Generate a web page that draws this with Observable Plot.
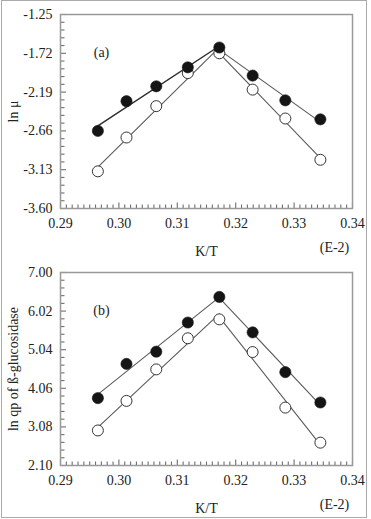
<!DOCTYPE html>
<html>
<head>
<meta charset="utf-8">
<script src="https://cdn.jsdelivr.net/npm/d3@7"></script>
<script src="https://cdn.jsdelivr.net/npm/@observablehq/plot@0.6"></script>
<style>
  html, body { margin: 0; padding: 0; background: #fff; }
  #page { position: relative; width: 371px; height: 519px; overflow: hidden; }
  #border { position: absolute; left: 1px; top: 0; width: 364px; height: 516px; border: 1.5px solid #aaa; }
  #panelA, #panelB { position: absolute; left: 0; }
  #panelA { top: 0; }
  #panelB { top: 259px; }
</style>
</head>
<body>
<div id="page">
  <div id="border"></div>
  <div id="panelA"></div>
  <div id="panelB"></div>
</div>
<script>
// Reciprocal temperature (K/T, ×1E-2) for the eight cultures
const kT = [0.2964, 0.3013, 0.3064, 0.3118, 0.3172, 0.3229, 0.3285, 0.3345];

// (a) ln μ — filled and open symbols
const lnMuFilled = [-2.66, -2.30, -2.12, -1.89, -1.65, -1.99, -2.29, -2.52];
const lnMuOpen   = [-3.15, -2.74, -2.36, -1.96, -1.72, -2.16, -2.51, -3.01];

// (b) ln qp of ß-glucosidase — filled and open symbols
const lnQpFilled = [3.81, 4.68, 4.99, 5.73, 6.38, 5.48, 4.47, 3.70];
const lnQpOpen   = [2.99, 3.74, 4.54, 5.33, 5.81, 4.98, 3.57, 2.68];

// Axis ticks
const xTicks = [0.29, 0.30, 0.31, 0.32, 0.33, 0.34];
const yTicksA = [-3.60, -3.13, -2.66, -2.19, -1.72, -1.25];
const yTicksB = [2.10, 3.08, 4.06, 5.04, 6.02, 7.00];

// Index of the optimum; the rising branch ends here and the falling one starts
const peak = 4;

const W = 371, ML = 60, MR = 19;

function rows(values, series) {
  return values.map((v, i) => ({x: kT[i], y: v, series}));
}

// Points split into rising/falling branches (peak shared) for the fitted lines
function branches(values, series) {
  const out = [];
  values.forEach((v, i) => {
    if (i <= peak) out.push({x: kT[i], y: v, branch: series + "-rise", series});
    if (i >= peak) out.push({x: kT[i], y: v, branch: series + "-fall", series});
  });
  return out;
}

function minor(ticks, n) {
  const out = [];
  for (let i = 0; i < ticks.length - 1; i++) {
    const step = (ticks[i + 1] - ticks[i]) / n;
    for (let j = 1; j < n; j++) out.push(ticks[i] + step * j);
  }
  return out;
}

function panel({filled, open, yTicks, yLabel, tag, marginTop, marginBottom, height, darkRise}) {
  const pts = [...rows(filled, "filled"), ...rows(open, "open")];
  const fits = [...branches(filled, "filled"), ...branches(open, "open")];
  const innerW = W - ML - MR;
  const innerH = height - marginTop - marginBottom;
  const tickColor = "#6e6e6e";
  return Plot.plot({
    width: W,
    height,
    marginLeft: ML,
    marginRight: MR,
    marginTop,
    marginBottom,
    style: {fontFamily: "'Liberation Serif', 'Times New Roman', serif", fontSize: "14px", color: "#222", background: "transparent"},
    x: {domain: [0.29, 0.34]},
    y: {domain: [yTicks[0], yTicks[yTicks.length - 1]]},
    marks: [
      // inward tick marks along the left and bottom edges
      Plot.tickY(yTicks, {y: d => d, insetRight: innerW - 6, stroke: tickColor, strokeWidth: 1.1}),
      Plot.tickY(minor(yTicks, 5), {y: d => d, insetRight: innerW - 4.5, stroke: tickColor, strokeWidth: 1.1}),
      Plot.tickX(xTicks, {x: d => d, insetTop: innerH - 5.5, stroke: tickColor, strokeWidth: 1.1}),
      Plot.tickX(minor(xTicks, 10), {x: d => d, insetTop: innerH - 3.5, stroke: tickColor, strokeWidth: 1.1}),
      Plot.frame({stroke: "#999", strokeWidth: 1.5}),
      // tick labels
      Plot.axisY({ticks: yTicks, tickSize: 0, tickPadding: 8, tickFormat: d => d.toFixed(2), fill: "#222", label: null}),
      Plot.axisX({ticks: xTicks, tickSize: 0, tickPadding: 10, tickFormat: d => d.toFixed(2), fill: "#222", label: null}),
      // fitted lines on each side of the optimum
      Plot.linearRegressionY(fits.filter(d => d.branch === "filled-rise"), {x: "x", y: "y", ci: 0, stroke: darkRise ? "#2a2a2a" : "#5a5a5a", strokeWidth: darkRise ? 1.4 : 1.1}),
      Plot.linearRegressionY(fits.filter(d => d.branch !== "filled-rise"), {x: "x", y: "y", z: "branch", ci: 0, stroke: "#5a5a5a", strokeWidth: 1.1}),
      Plot.dot(pts.filter(d => d.series === "open"), {x: "x", y: "y", r: 5.5, fill: "white", stroke: "#333", strokeWidth: 1}),
      Plot.dot(pts.filter(d => d.series === "filled"), {x: "x", y: "y", r: 5.6, fill: "#151515", stroke: "#151515", strokeWidth: 0.6}),
      // labels
      Plot.text([tag], {frameAnchor: "top-left", dx: 41, dy: 38, textAnchor: "middle", lineAnchor: "middle", fill: "#222"}),
      Plot.text([yLabel], {frameAnchor: "left", dx: -47, rotate: -90, textAnchor: "middle", lineAnchor: "middle", fill: "#222"}),
      Plot.text(["K/T"], {frameAnchor: "bottom", dy: 43, textAnchor: "middle", lineAnchor: "middle", fill: "#222"}),
      Plot.text(["(E-2)"], {frameAnchor: "bottom-right", dx: -18, dy: 39, textAnchor: "middle", lineAnchor: "middle", fill: "#222"})
    ]
  });
}

document.getElementById("panelA").append(panel({
  filled: lnMuFilled, open: lnMuOpen, yTicks: yTicksA, yLabel: "ln μ", tag: "(a)",
  marginTop: 14, marginBottom: 51, height: 259, darkRise: true
}));

document.getElementById("panelB").append(panel({
  filled: lnQpFilled, open: lnQpOpen, yTicks: yTicksB, yLabel: "ln qp of ß-glucosidase", tag: "(b)",
  marginTop: 13, marginBottom: 54, height: 260, darkRise: false
}));
</script>
</body>
</html>
